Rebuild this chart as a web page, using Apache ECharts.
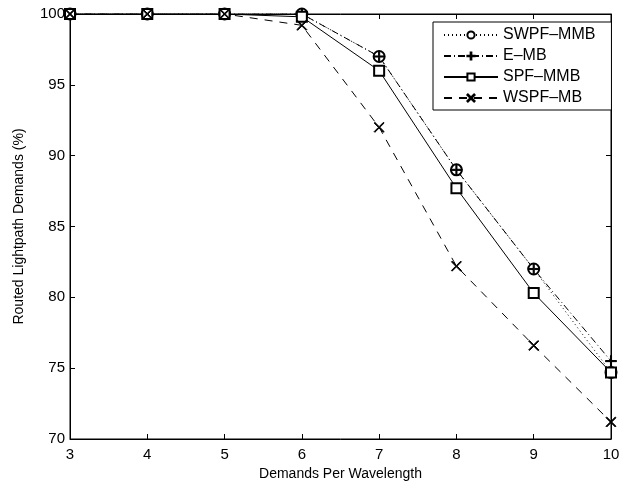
<!DOCTYPE html>
<html>
<head>
<meta charset="utf-8">
<script src="https://cdn.jsdelivr.net/npm/echarts@6/dist/echarts.min.js"></script>
<style>
  html, body { margin: 0; padding: 0; background: #fff; }
  #chart { width: 632px; height: 486px; }
</style>
</head>
<body>
<div id="chart"></div>
<script>
  // 数据
  var demands = [3, 4, 5, 6, 7, 8, 9, 10];
  var swpfMmb = [100, 100, 100, 100, 97.0, 89.0, 82.0, 74.7];
  var eMb = [100, 100, 100, 100, 97.0, 89.0, 82.0, 75.5];
  var spfMmb = [100, 100, 100, 99.8, 96.0, 87.7, 80.3, 74.7];
  var wspfMb = [100, 100, 100, 99.2, 92.0, 82.2, 76.6, 71.2];

  var plusPath = 'path://M4.5,0H5.5V4.5H10V5.5H5.5V10H4.5V5.5H0V4.5H4.5Z';
  var crossPath = 'path://M0,0.7L0.7,0L5,4.3L9.3,0L10,0.7L5.7,5L10,9.3L9.3,10L5,5.7L0.7,10L0,9.3L4.3,5Z';

  function pairs(vals) {
    return demands.map(function (d, i) { return [d, vals[i]]; });
  }

  var font = 'Liberation Sans, Arial, Helvetica, sans-serif';

  function mkSeries(name, vals, symbol, size, dash) {
    return {
      name: name,
      type: 'line',
      data: pairs(vals),
      symbol: symbol,
      symbolSize: size,
      showAllSymbol: true,
      lineStyle: { color: '#000', width: 1, type: dash },
      itemStyle: { color: '#000', borderColor: '#000', borderWidth: 1 },
      animation: false
    };
  }

  var myChart = echarts.init(document.getElementById('chart'));
  myChart.setOption({
    backgroundColor: '#fff',
    textStyle: { fontFamily: font },
    grid: { left: 70, right: 21, top: 14, bottom: 47, show: true, borderColor: '#000', borderWidth: 1 },
    legend: {
      orient: 'vertical',
      left: 433,
      top: 22,
      padding: [5, 16, 4, 10],
      itemWidth: 54,
      itemHeight: 9,
      itemGap: 5,
      backgroundColor: '#fff',
      borderColor: '#000',
      borderWidth: 1,
      textStyle: { fontSize: 16, lineHeight: 16, color: '#000', fontFamily: font },
      data: ['SWPF\u2013MMB', 'E\u2013MB', 'SPF\u2013MMB', 'WSPF\u2013MB']
    },
    xAxis: [{
      type: 'value', min: 3, max: 10, interval: 1,
      name: 'Demands Per Wavelength', nameLocation: 'middle', nameGap: 27,
      nameTextStyle: { fontSize: 14, color: '#000' },
      axisLine: { lineStyle: { color: '#000' } },
      axisTick: { inside: true, length: 5, lineStyle: { color: '#000' } },
      axisLabel: { fontSize: 15, color: '#000', margin: 8 },
      splitLine: { show: false }
    }, {
      type: 'value', min: 3, max: 10, interval: 1, position: 'top',
      axisLine: { lineStyle: { color: '#000' } },
      axisTick: { inside: true, length: 5, lineStyle: { color: '#000' } },
      axisLabel: { show: false },
      splitLine: { show: false }
    }],
    yAxis: [{
      type: 'value', min: 70, max: 100, interval: 5,
      name: 'Routed Lightpath Demands (%)', nameLocation: 'middle', nameGap: 44,
      nameTextStyle: { fontSize: 14, color: '#000' },
      axisLine: { show: true, lineStyle: { color: '#000' } },
      axisTick: { show: true, inside: true, length: 5, lineStyle: { color: '#000' } },
      axisLabel: { fontSize: 15, color: '#000', margin: 5 },
      splitLine: { show: false }
    }, {
      type: 'value', min: 70, max: 100, interval: 5, position: 'right',
      axisLine: { show: true, lineStyle: { color: '#000' } },
      axisTick: { show: true, inside: true, length: 5, lineStyle: { color: '#000' } },
      axisLabel: { show: false },
      splitLine: { show: false }
    }],
    series: [
      mkSeries('SWPF\u2013MMB', swpfMmb, 'emptyCircle', 11, [1, 3]),
      mkSeries('E\u2013MB', eMb, plusPath, 11, [7, 3, 1, 3]),
      mkSeries('SPF\u2013MMB', spfMmb, 'emptyRect', 10, 'solid'),
      mkSeries('WSPF\u2013MB', wspfMb, crossPath, 10, [8, 7])
    ]
  });
</script>
</body>
</html>
